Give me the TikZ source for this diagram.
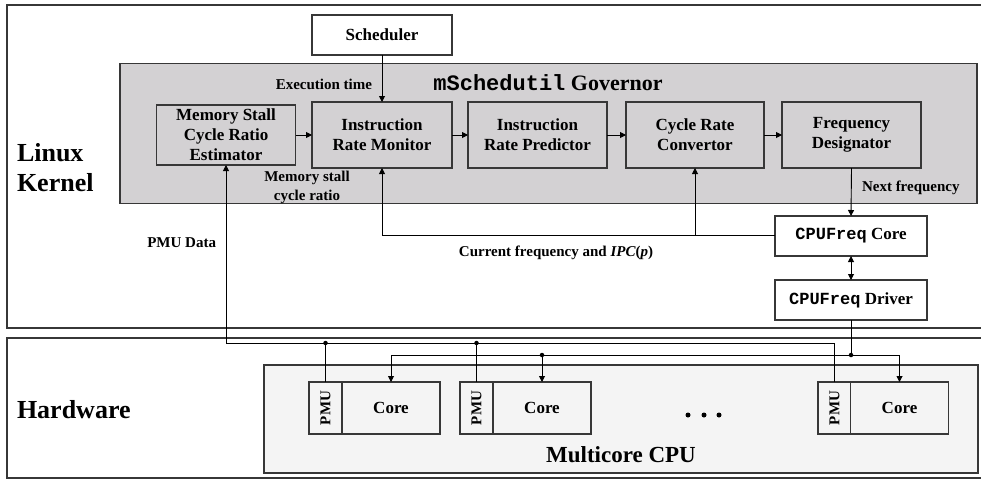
\documentclass[tikz,border=0pt]{standalone}
\usepackage{fontspec}
\setmainfont{Liberation Serif}
\setmonofont{Liberation Mono}
\usetikzlibrary{arrows.meta}
\definecolor{govgray}{RGB}{211,209,211}
\definecolor{cpugray}{RGB}{244,244,244}
\definecolor{frame}{RGB}{55,55,55}
\begin{document}
\begin{tikzpicture}[x=1pt,y=-1pt,
  every node/.style={inner sep=0pt, outer sep=0pt},
  blk/.style={draw=frame, line width=1.1pt, align=center, font=\bfseries\fontsize{17}{20}\selectfont},
  lbl/.style={align=center, font=\bfseries\fontsize{15}{19}\selectfont},
  big/.style={align=left, font=\bfseries\fontsize{26}{30}\selectfont},
  conn/.style={line width=0.9pt, draw=black},
  arr/.style={conn, -{Triangle[length=6pt,width=6pt]}},
  dot/.style={circle, fill=black, minimum size=4.5pt}
]
\useasboundingbox (0,0) rectangle (981,479);
\clip (0,0) rectangle (981,479);
\fill[white] (0,0) rectangle (981,479);

% outer frames
\node[draw=frame, line width=1.3pt, minimum width=990pt, minimum height=323pt, anchor=north west] (kernel) at (7,5) {};
\node[draw=frame, line width=1.3pt, minimum width=990pt, minimum height=140pt, anchor=north west] (hw) at (7,338) {};
\node[big, anchor=west] (kl) at (17,168) {Linux\\Kernel};
\node[big, anchor=west] (hl) at (17,410) {Hardware};

% governor
\node[draw=frame, line width=1.3pt, fill=govgray, minimum width=857pt, minimum height=140pt] (gov) at (548.5,133.5) {};
\node[font=\bfseries\fontsize{22}{26}\selectfont] (govt) at (548,83) {\texttt{mSchedutil} Governor};

\node[blk, fill=white, minimum width=140pt, minimum height=40pt] (sched) at (382,35) {Scheduler};

\node[blk, minimum width=139pt, minimum height=60pt] (mem) at (226,135) {Memory Stall\\Cycle Ratio\\Estimator};
\node[blk, minimum width=140pt, minimum height=66pt] (irm) at (382,135) {Instruction\\Rate Monitor};
\node[blk, minimum width=139pt, minimum height=66pt] (irp) at (537.5,135) {Instruction\\Rate Predictor};
\node[blk, minimum width=138pt, minimum height=66pt] (crc) at (695,135) {Cycle Rate\\Convertor};
\node[blk, minimum width=139pt, minimum height=66pt] (fd) at (851.5,135) {Frequency\\Designator};

\node[blk, fill=white, minimum width=152pt, minimum height=40pt] (fcore) at (851,236) {\texttt{CPUFreq} Core};
\node[blk, fill=white, minimum width=152pt, minimum height=40pt] (fdrv) at (851,300) {\texttt{CPUFreq} Driver};

% labels
\node[lbl, anchor=east] (lexec) at (372,84) {Execution time};
\node[lbl] (lmem) at (307,187) {Memory stall\\cycle ratio};
\node[lbl, anchor=west] (lnext) at (862,188) {Next frequency};
\node[lbl, anchor=east] (lpmu) at (216,243) {PMU Data};
\node[lbl] (lcur) at (556,253) {Current frequency and {\itshape IPC}(\textit{p})};

% hardware
\node[draw=frame, line width=1.1pt, fill=cpugray, minimum width=714pt, minimum height=108pt] (mc) at (621,419) {};
\node[font=\bfseries\fontsize{23}{26}\selectfont] (mct) at (621,455) {Multicore CPU};

\foreach \n/\px/\cx in {1/325.5/391, 2/476.5/542, 3/834.5/899.5} {
  \node[draw=frame, line width=1.1pt, fill=cpugray, minimum width=33pt, minimum height=52pt] (p\n) at (\px,408) {};
  \node[rotate=90, font=\bfseries\fontsize{15}{17}\selectfont] (pt\n) at (\px,408) {PMU};
  \node[blk, fill=cpugray, minimum width=98pt, minimum height=52pt] (c\n) at (\cx,408) {Core};
}
\node[dot, minimum size=5pt] (d1) at (688,415) {};
\node[dot, minimum size=5pt] (d2) at (704,415) {};
\node[dot, minimum size=5pt] (d3) at (719,415) {};

% connectors
\coordinate (pbus) at (0,343);
\coordinate (cbus) at (0,355);
\coordinate (fbus) at (0,235.5);

\draw[arr] (sched.south) -- (irm.north);
\draw[arr] (mem.east) -- (irm.west);
\draw[arr] (irm.east) -- (irp.west);
\draw[arr] (irp.east) -- (crc.west);
\draw[arr] (crc.east) -- (fd.west);
\draw[arr] (fd.south) -- (fcore.north);
\draw[conn, {Triangle[length=6pt,width=6pt]}-{Triangle[length=6pt,width=6pt]}] (fcore.south) -- (fdrv.north);

\draw[arr] (fcore.west |- fbus) -| (irm.south);
\draw[arr] (crc.south |- fbus) -- (crc.south);

\draw[arr] (p3.north) |- (mem.south |- pbus) -- (mem.south);
\draw[conn] (p1.north |- pbus) -- (p1.north);
\draw[conn] (p2.north |- pbus) -- (p2.north);
\node[dot] (j1) at (p1.north |- pbus) {};
\node[dot] (j2) at (p2.north |- pbus) {};

\draw[conn, {Triangle[length=6pt,width=6pt]}-{Triangle[length=6pt,width=6pt]}] (c1.north) |- (c3.north |- cbus) -- (c3.north);
\draw[conn] (fdrv.south) -- (fdrv.south |- cbus);
\draw[arr] (c2.north |- cbus) -- (c2.north);
\node[dot] (j3) at (c2.north |- cbus) {};
\node[dot] (j4) at (fdrv.south |- cbus) {};
\end{tikzpicture}
\end{document}
